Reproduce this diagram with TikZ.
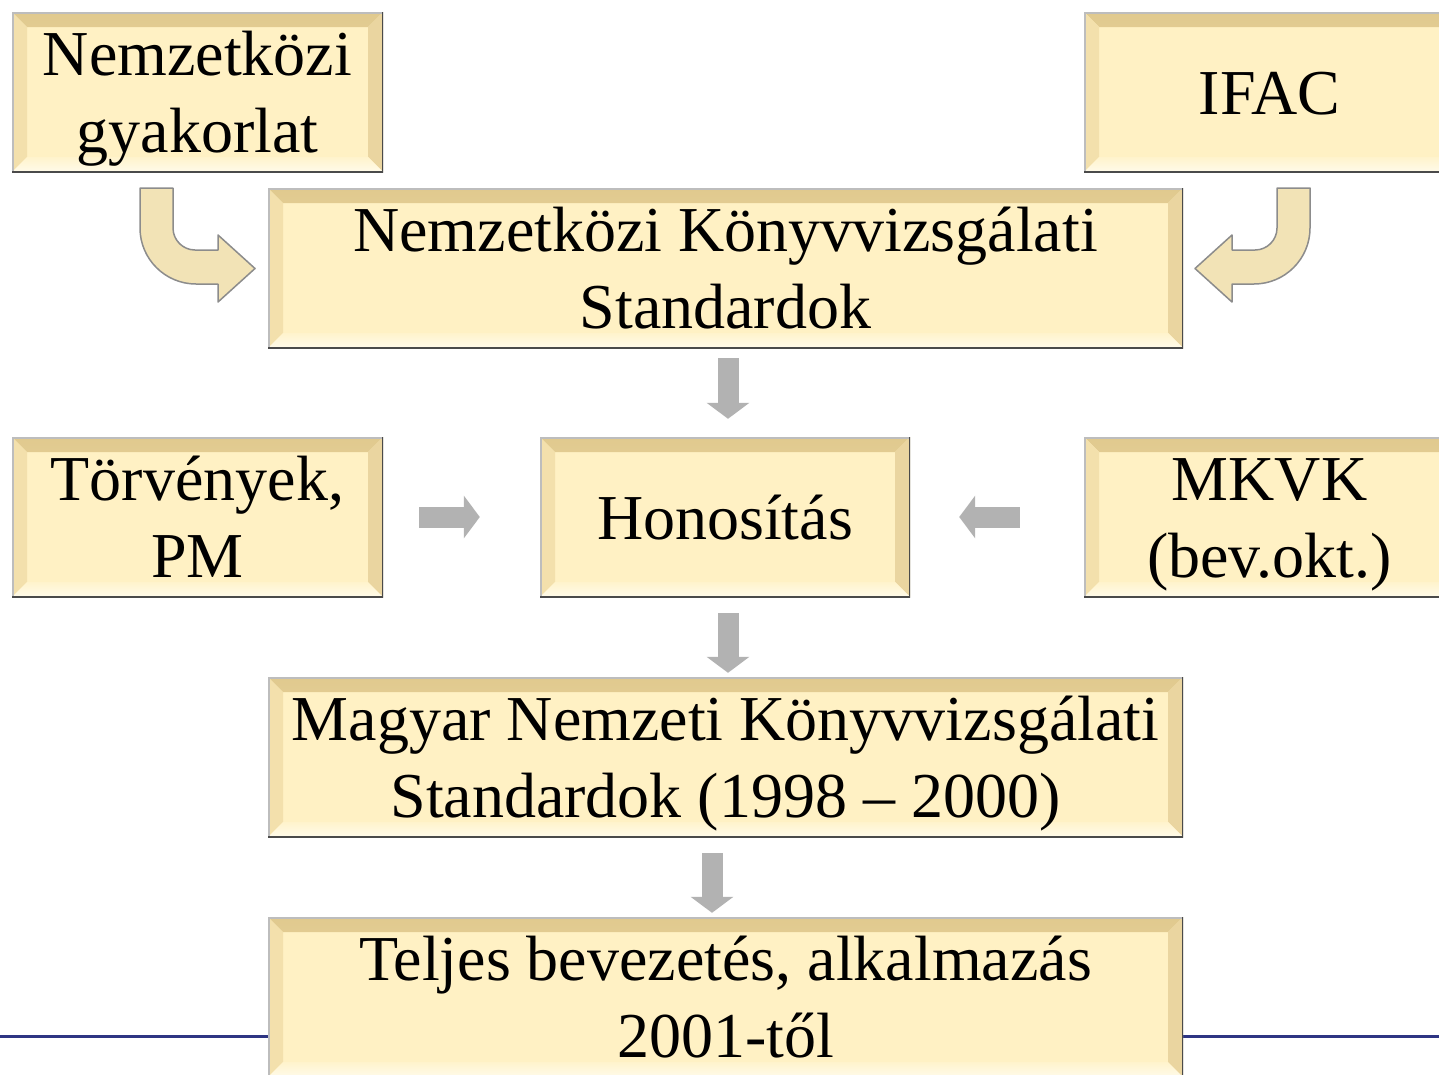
\documentclass[tikz,border=0pt]{standalone}
\usepackage{fontspec}
\setmainfont{Liberation Serif}
\usetikzlibrary{arrows.meta}
\definecolor{boxfill}{HTML}{FFF1C4}
\definecolor{bevtopA}{HTML}{E0C98E}
\definecolor{bevtopB}{HTML}{F5E5B4}
\definecolor{bevleft}{HTML}{F3E0AC}
\definecolor{bevright}{HTML}{EAD5A0}
\definecolor{bevbotA}{HTML}{FFFBEA}
\definecolor{bevbotB}{HTML}{FFF3CC}
\definecolor{edgelight}{HTML}{BDBDBD}
\definecolor{edgedark}{HTML}{4A4A4A}
\definecolor{arrowgray}{HTML}{B2B2B2}
\definecolor{navyline}{HTML}{2E3583}
\definecolor{bentfill}{HTML}{F2E3B6}
\definecolor{bentedge}{HTML}{8C8C8C}
\newcommand{\dnlines}[1]{\raisebox{-7pt}[\height][\depth]{\begin{tabular}{@{}c@{}}#1\end{tabular}}}
\tikzset{
 bx/.style={rectangle, inner sep=0pt, fill=boxfill,
   font=\fontsize{64}{77}\selectfont, minimum height=160pt,
   path picture={
     \shade[top color=bevtopA, bottom color=bevtopB]
       (path picture bounding box.north west) -- (path picture bounding box.north east)
       -- ([xshift=-15pt,yshift=-15pt]path picture bounding box.north east)
       -- ([xshift=15pt,yshift=-15pt]path picture bounding box.north west) -- cycle;
     \fill[bevleft]
       (path picture bounding box.north west) -- ([xshift=15pt,yshift=-15pt]path picture bounding box.north west)
       -- ([xshift=15pt,yshift=15pt]path picture bounding box.south west)
       -- (path picture bounding box.south west) -- cycle;
     \fill[bevright]
       (path picture bounding box.north east) -- ([xshift=-15pt,yshift=-15pt]path picture bounding box.north east)
       -- ([xshift=-15pt,yshift=15pt]path picture bounding box.south east)
       -- (path picture bounding box.south east) -- cycle;
     \shade[top color=bevbotB, bottom color=bevbotA]
       (path picture bounding box.south west) -- (path picture bounding box.south east)
       -- ([xshift=-15pt,yshift=15pt]path picture bounding box.south east)
       -- ([xshift=15pt,yshift=15pt]path picture bounding box.south west) -- cycle;
     \draw[edgelight, line width=3pt] (path picture bounding box.south west)
       -- (path picture bounding box.north west) -- (path picture bounding box.north east);
     \draw[edgedark, line width=3pt] (path picture bounding box.north east)
       -- (path picture bounding box.south east) -- (path picture bounding box.south west);
   }},
 garrow/.style={arrowgray, line width=21pt, -{Triangle[width=42pt,length=16pt]}},
 bent/.style={fill=bentfill, draw=bentedge, line width=1.5pt, line join=round}
}
\begin{document}
\begin{tikzpicture}[x=1pt,y=-1pt]
\path[use as bounding box, fill=white] (0,0) rectangle (1439,1074);
\clip (0,0) rectangle (1439,1074);
\draw[navyline, line width=3pt] (0,1036) -- (1439,1036);

\node[bx, minimum width=371pt] (ng) at (197.5,92) {\dnlines{Nemzetközi\\gyakorlat}};
\node[bx, minimum width=371pt] (ifac) at (1269.5,92) {\dnlines{IFAC}};
\node[bx, minimum width=915pt] (nks) at (725.5,268) {\dnlines{Nemzetközi Könyvvizsgálati\\Standardok}};
\node[bx, minimum width=371pt] (tor) at (197.5,517) {\dnlines{Törvények,\\PM}};
\node[bx, minimum width=370pt] (hon) at (725,517) {\dnlines{Honosítás}};
\node[bx, minimum width=371pt] (mkvk) at (1269.5,517) {\dnlines{MKVK\\(bev.okt.)}};
\node[bx, minimum width=915pt] (mnks) at (725.5,757) {\dnlines{Magyar Nemzeti Könyvvizsgálati\\Standardok (1998 – 2000)}};
\node[bx, minimum width=915pt] (tel) at (725.5,997) {\dnlines{Teljes bevezetés, alkalmazás\\2001-től}};

% bent arrows
\filldraw[bent] (140,188) -- (140,228) .. controls (140,258.9) and (165.1,284) .. (196,284)
  -- (218,284) -- (218,302) -- (255,268.5) -- (218,235) -- (218,250) -- (195,250)
  .. controls (182.9,250) and (173,240.1) .. (173,228) -- (173,188) -- cycle;
\filldraw[bent] (1310,188) -- (1310,228) .. controls (1310,258.9) and (1284.9,284) .. (1254,284)
  -- (1232,284) -- (1232,302) -- (1195,268.5) -- (1232,235) -- (1232,250) -- (1255,250)
  .. controls (1267.1,250) and (1277,240.1) .. (1277,228) -- (1277,188) -- cycle;

% gray arrows
\draw[garrow] ([xshift=2.5pt,yshift=-10pt]nks.south) -- ([xshift=3pt,yshift=18pt]hon.north);
\draw[garrow] ([xshift=3pt,yshift=-16pt]hon.south) -- ([xshift=2.5pt,yshift=4pt]mnks.north);
\draw[garrow] ([xshift=-13.5pt,yshift=-16pt]mnks.south) -- ([xshift=-13.5pt,yshift=4pt]tel.north);
\draw[garrow] ([xshift=36pt]tor.east) -- ([xshift=-60pt]hon.west);
\draw[garrow] ([xshift=-64pt]mkvk.west) -- ([xshift=49pt]hon.east);
\end{tikzpicture}
\end{document}
